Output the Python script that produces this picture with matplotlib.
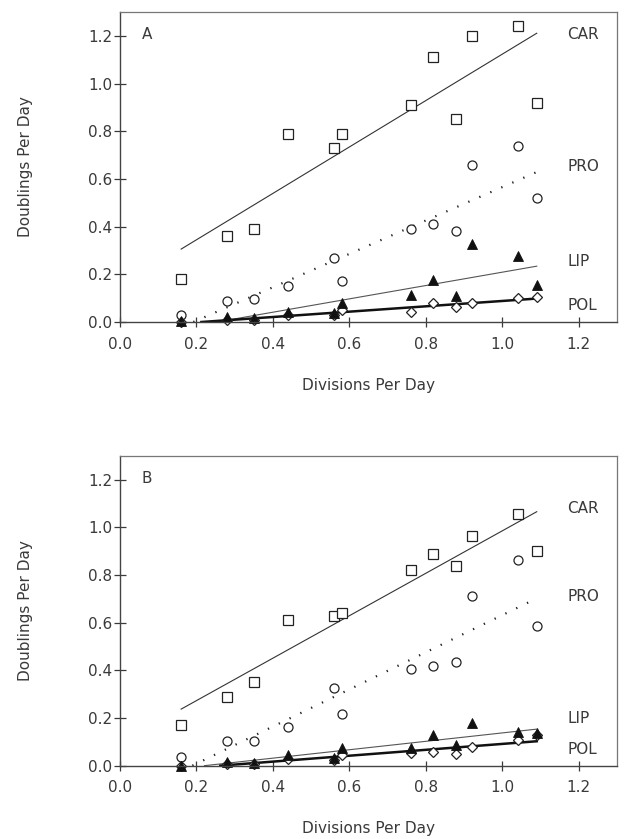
import numpy as np
import matplotlib
matplotlib.use('Agg')
import matplotlib.pyplot as plt

plt.rcParams['font.family'] = ['DejaVu Sans']

# divisions per day (shared x values)
div_per_day = [0.16, 0.28, 0.35, 0.44, 0.56, 0.58, 0.76, 0.82, 0.88, 0.92, 1.04, 1.09]

# panel A
car_a = [0.18, 0.36, 0.39, 0.79, 0.73, 0.79, 0.91, 1.11, 0.85, 1.20, 1.24, 0.92]
pro_a = [0.03, 0.09, 0.095, 0.15, 0.27, 0.17, 0.39, 0.41, 0.38, 0.66, 0.74, 0.52]
lip_a = [0.005, 0.022, 0.015, 0.043, 0.036, 0.078, 0.113, 0.176, 0.109, 0.326, 0.277, 0.155]
pol_a = [0.0, 0.01, 0.01, 0.03, 0.03, 0.05, 0.04, 0.078, 0.062, 0.081, 0.102, 0.104]

# panel B
car_b = [0.17, 0.29, 0.35, 0.61, 0.63, 0.64, 0.82, 0.89, 0.84, 0.965, 1.055, 0.90]
pro_b = [0.035, 0.105, 0.105, 0.164, 0.325, 0.217, 0.406, 0.418, 0.434, 0.713, 0.863, 0.588]
lip_b = [0.0, 0.015, 0.01, 0.045, 0.031, 0.073, 0.073, 0.129, 0.087, 0.178, 0.143, 0.139]
pol_b = [0.0, 0.005, 0.005, 0.03, 0.025, 0.045, 0.052, 0.059, 0.048, 0.080, 0.108, 0.129]

ticks = [0.0, 0.2, 0.4, 0.6, 0.8, 1.0, 1.2]
series_names = ['CAR', 'PRO', 'LIP', 'POL']

txt_color = '#3a3a3a'


def fit_line(ax, x, y, **kw):
    x = np.asarray(x)
    y = np.asarray(y)
    a, b = np.polyfit(x, y, 1)
    x0 = max(x.min(), -b / a)
    xs = np.array([x0, x.max()])
    ax.plot(xs, a * xs + b, **kw)


def draw_panel(ax, letter, car, pro, lip, pol, label_y):
    x = div_per_day
    fit_line(ax, x, car, color='#333333', lw=0.8)
    fit_line(ax, x, pro, color='#222222', lw=1.6, ls=(0, (0.6, 4.8)))
    fit_line(ax, x, lip, color='#555555', lw=0.8)
    fit_line(ax, x, pol, color='#111111', lw=1.8)

    ax.plot(x, car, 's', ms=6.5, mfc='white', mec='#222222', mew=0.9, clip_on=False)
    ax.plot(x, pro, 'o', ms=6.5, mfc='white', mec='#222222', mew=0.9, clip_on=False)
    ax.plot(x, pol, 'D', ms=4.8, mfc='white', mec='#222222', mew=0.9, clip_on=False)
    ax.plot(x, lip, '^', ms=6.5, mfc='#111111', mec='#111111', mew=0.6, clip_on=False)

    ax.set_xlim(0, 1.3)
    ax.set_ylim(0, 1.3)
    ax.set_xticks(ticks)
    ax.set_yticks(ticks)
    ax.set_xticklabels(['%.1f' % t for t in ticks])
    ax.set_yticklabels(['%.1f' % t for t in ticks])
    ax.tick_params(axis='y', direction='inout', length=9, width=0.9, pad=1,
                   labelsize=11, colors='#3a3a3a')
    ax.tick_params(axis='x', direction='inout', length=7, width=0.9, pad=7,
                   labelsize=11, colors='#3a3a3a')

    for side in ['left', 'bottom']:
        ax.spines[side].set_color('#444444')
        ax.spines[side].set_linewidth(1.0)
    for side in ['top', 'right']:
        ax.spines[side].set_color('#777777')
        ax.spines[side].set_linewidth(0.9)

    ax.set_xlabel('Divisions Per Day', fontsize=11, color=txt_color)
    ax.set_ylabel('Doublings Per Day', fontsize=11, color=txt_color)
    ax.xaxis.set_label_coords(0.5, -0.18)
    ax.yaxis.set_label_coords(-0.175, 0.5)

    ax.text(0.044, 0.928, letter, transform=ax.transAxes, fontsize=11,
            color=txt_color, ha='left', va='center')
    for name, ly in zip(series_names, label_y):
        ax.text(1.17, ly, name, fontsize=11, color=txt_color, ha='left', va='center')


fig = plt.figure(figsize=(6.24, 8.39), dpi=100)
ax_a = fig.add_axes([0.1923, 0.6162, 0.7965, 0.3695])
ax_b = fig.add_axes([0.1923, 0.0874, 0.7965, 0.3691])

draw_panel(ax_a, 'A', car_a, pro_a, lip_a, pol_a, [1.207, 0.652, 0.253, 0.071])
draw_panel(ax_b, 'B', car_b, pro_b, lip_b, pol_b, [1.080, 0.709, 0.196, 0.066])

fig.savefig('out.png', dpi=100)
